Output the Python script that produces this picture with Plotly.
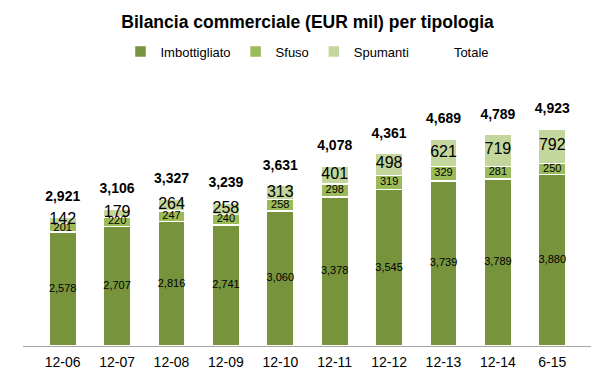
import plotly.graph_objects as go

categories = ["12-06", "12-07", "12-08", "12-09", "12-10", "12-11", "12-12", "12-13", "12-14", "6-15"]
imbottigliato = [2578, 2707, 2816, 2741, 3060, 3378, 3545, 3739, 3789, 3880]
sfuso = [201, 220, 247, 240, 258, 298, 319, 329, 281, 250]
spumanti = [142, 179, 264, 258, 313, 401, 498, 621, 719, 792]
totale = [2921, 3106, 3327, 3239, 3631, 4078, 4361, 4689, 4789, 4923]

c_imb = "#77933C"
c_sfu = "#9BBB59"
c_spu = "#C3D69B"

narrow = "Liberation Sans, Arial, sans-serif"
sans = "Liberation Sans, Arial, sans-serif"

fmt = lambda v: f"{v:,}"

fig = go.Figure()
for name, vals, col in [("Imbottigliato", imbottigliato, c_imb),
                        ("Sfuso", sfuso, c_sfu),
                        ("Spumanti", spumanti, c_spu)]:
    fig.add_trace(go.Bar(x=categories, y=vals, name=name,
                         marker=dict(color=col, line=dict(color="white", width=1.5)),
                         hoverinfo="skip"))

# segment labels
mid_imb = [a / 2 for a in imbottigliato]
mid_sfu = [a + b / 2 for a, b in zip(imbottigliato, sfuso)]
mid_spu = [a + b + c / 2 for a, b, c in zip(imbottigliato, sfuso, spumanti)]
for mids, vals, size in [(mid_imb, imbottigliato, 11), (mid_sfu, sfuso, 11), (mid_spu, spumanti, 16)]:
    fig.add_trace(go.Scatter(x=categories, y=mids, mode="text",
                             text=[fmt(v) for v in vals],
                             textfont=dict(family=sans, size=size, color="black"),
                             showlegend=False, hoverinfo="skip"))

fig.add_trace(go.Scatter(x=categories, y=totale, name="Totale",
                         mode="markers+text",
                         marker=dict(size=18, opacity=0, color="white"),
                         text=["<b>" + fmt(v) + "</b>" for v in totale],
                         textposition="top center",
                         textfont=dict(family=sans, size=14, color="black"),
                         hoverinfo="skip"))

fig.update_layout(
    width=599, height=375,
    barmode="stack", bargap=0.5,
    margin=dict(l=15, r=15, t=82, b=37),
    plot_bgcolor="white", paper_bgcolor="white",
    title=dict(text="<b>Bilancia commerciale (EUR mil) per tipologia</b>",
               x=0.5, xanchor="center", y=1 - 14 / 375, yanchor="middle",
               yref="container",
               font=dict(family=narrow, size=17.5, color="black")),
    legend=dict(orientation="h", x=0.5, xanchor="center", y=1.15, yanchor="middle",
                font=dict(family=narrow, size=13, color="black"),
                itemwidth=30, traceorder="normal"),
    xaxis=dict(type="category", showline=True, linecolor="#A6A6A6", linewidth=1,
               tickfont=dict(family=sans, size=14, color="black"),
               ticks="", ticklabelstandoff=3, fixedrange=True),
    yaxis=dict(visible=False, range=[0, 5800], showgrid=False, fixedrange=True),
    showlegend=True,
)

fig.write_html("out.html")
